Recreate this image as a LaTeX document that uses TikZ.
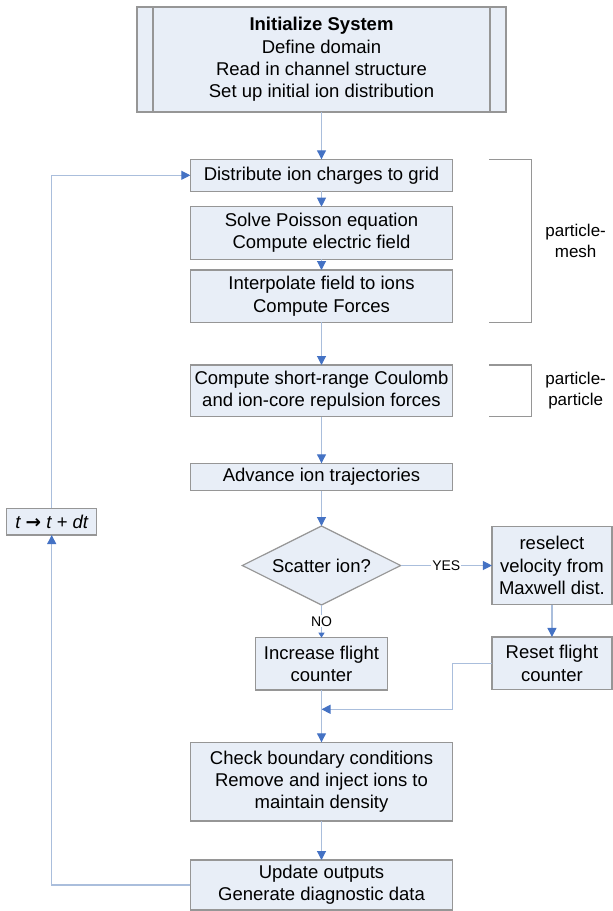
\documentclass[tikz,border=0pt]{standalone}
\usepackage{fontspec}
\setmainfont{Liberation Sans}
\newfontfamily\arrowfont{DejaVu Sans}
\definecolor{boxfill}{RGB}{232,238,247}
\definecolor{boxline}{RGB}{150,150,150}
\definecolor{linkblue}{RGB}{170,190,220}
\definecolor{tipblue}{RGB}{68,114,196}
\usetikzlibrary{positioning, arrows.meta, shapes.geometric, calc}
\tikzset{
x=1pt, y=-1pt, % one unit is one pixel of the sketch
every node/.style={font=\fontsize{18.5}{22.3}\selectfont, align=center, outer sep=0pt}, % text of all the boxes
block/.style={draw=boxline, line width=1.2pt, fill=boxfill, inner sep=2pt, minimum width=262.3pt}, % process boxes
decision/.style={diamond, aspect=2, draw=boxline, line width=1.2pt, fill=boxfill, inner sep=0pt, minimum width=158.3pt, minimum height=79pt}, % the yes/no test
link/.style={draw=linkblue, line width=1.1pt, -{Triangle[width=9pt, length=9pt, color=tipblue]}}, % arrows between boxes
plain/.style={draw=linkblue, line width=1.1pt}, % lines with no tip
brace/.style={draw=boxline, line width=1.1pt}, % the square brackets on the right
note/.style={font=\fontsize{17}{21}\selectfont}, % text beside the brackets
tag/.style={font=\fontsize{14}{16}\selectfont, fill=white, inner sep=1pt} % YES and NO
}

\begin{document}
\begin{tikzpicture}
      \useasboundingbox (0,0) rectangle (613,911);

      \node[block, minimum width=369pt, minimum height=105pt] (init) at (321.5,59.5) {\textbf{Initialize System}\\Define domain\\Read in channel structure\\Set up initial ion distribution};
      \node[block, minimum height=32pt, below=47.3pt of init] (distr) {Distribute ion charges to grid};
      \node[block, minimum height=52.6pt, below=15.4pt of distr] (solve) {Solve Poisson equation\\Compute electric field};
      \node[block, minimum height=52.3pt, below=10.7pt of solve] (interp) {Interpolate field to ions\\Compute Forces};
      \node[block, minimum height=51.7pt, below=42.7pt of interp] (short) {Compute short-range Coulomb\\and ion-core repulsion forces};
      \node[block, minimum height=27.4pt, below=46.6pt of short] (advance) {Advance ion trajectories};
      \node[decision, below=35.3pt of advance] (scatter) {Scatter ion?};
      \node[block, minimum width=120pt, minimum height=78.3pt, right=91.3pt of scatter] (resel) {reselect\\velocity from\\Maxwell dist.};
      \node[block, minimum width=131.7pt, minimum height=52.3pt, below=32.7pt of scatter] (incr) {Increase flight\\counter};
      \node[block, minimum width=120pt, minimum height=52.7pt, below=32.3pt of resel] (reset) {Reset flight\\counter};
      \coordinate[below=19.3pt of incr] (join);
      \node[block, minimum height=78.7pt, below=52.3pt of incr] (check) {Check boundary conditions\\Remove and inject ions to\\maintain density};
      \node[block, minimum height=50pt, below=39pt of check] (update) {Update outputs\\Generate diagnostic data};
      \node[block, minimum width=90pt, minimum height=26.7pt] (tick) at (51.7,521.7) {\itshape t {\arrowfont\upshape\bfseries →} t + dt};

      \draw[boxline, line width=1.2pt] ($(init.north west)+(16,0)$) -- ($(init.south west)+(16,0)$)
      ($(init.north east)+(-16,0)$) -- ($(init.south east)+(-16,0)$);

      \draw[brace] ($(distr.north east)+(36.8,0)$) -| ($(interp.south east)+(79,0)$) -- ($(interp.south east)+(36.8,0)$);
      \draw[brace] ($(short.north east)+(36.8,0)$) -| ($(short.south east)+(79,0)$) -- ($(short.south east)+(36.8,0)$);
      \node[note] (pmesh) at ($(distr.north east)!0.5!(interp.south east)+(123,0)$) {particle-\\mesh};
      \node[note] (ppart) at ($(short.east)+(123,0)$) {particle-\\particle};

      \draw[link] (init) -- (distr);
      \draw[link] (distr) -- (solve);
      \draw[link] (solve) -- (interp);
      \draw[link] (interp) -- (short);
      \draw[link] (short) -- (advance);
      \draw[link] (advance) -- (scatter);
      \draw[link] (scatter) -- node[tag]{YES} (resel);
      \draw[link, -{Triangle[width=6pt, length=5pt, color=tipblue]}] (scatter) -- node[tag]{NO} (incr);
      \draw[link] (resel) -- (reset);
      \draw[link] (reset.west) -- (reset.west -| check.east) |- (join);
      \draw[link] (incr) -- (check);
      \draw[link] (check) -- (update);
      \draw[link] (update.west) -| (tick.south);
      \draw[link] (tick.north) |- (distr.west);
    \end{tikzpicture}
\end{document}
